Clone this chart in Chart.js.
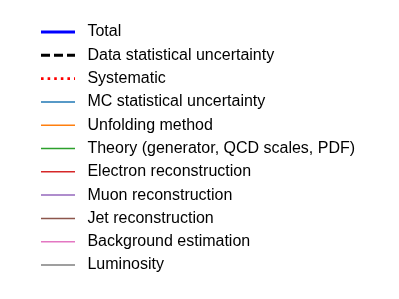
<!DOCTYPE html>
<html>
<head>
<meta charset="utf-8">
<script src="https://cdn.jsdelivr.net/npm/chart.js@4/dist/chart.umd.min.js"></script>
<style>
    body { margin: 0; background: #fff; }
</style>
</head>
<body>
<canvas id="myChart" width="399" height="299"></canvas>
<script>
// legend entries (the figure only shows the legend, no plotted values)
const seriesNames = [
    'Total',
    'Data statistical uncertainty',
    'Systematic',
    'MC statistical uncertainty',
    'Unfolding method',
    'Theory (generator, QCD scales, PDF)',
    'Electron reconstruction',
    'Muon reconstruction',
    'Jet reconstruction',
    'Background estimation',
    'Luminosity'
];
const categories = [];
const seriesValues = seriesNames.map(() => []);

// line styles per entry
const lineColors = ['#0000ff', '#000000', '#ff0000', '#1f77b4', '#ff7f0e', '#2ca02c',
                    '#d62728', '#9467bd', '#8c564b', '#e377c2', '#7f7f7f'];
const lineWidths = [3, 3, 2.6, 1.5, 1.5, 1.5, 1.5, 1.5, 1.5, 1.5, 1.5];
const lineDashes = [[], [9, 4], [2.6, 4], [], [], [], [], [], [], [], []];

const buildDataset = (label, data, i) => ({
    label: label,
    data: data,
    borderColor: lineColors[i],
    backgroundColor: lineColors[i],
    borderWidth: lineWidths[i],
    borderDash: lineDashes[i],
    fill: false
});

let ctx = document.getElementById('myChart').getContext('2d');
let myChart = new Chart(ctx, {
    type: 'line',
    data: {
        labels: categories,
        datasets: seriesNames.map((name, i) => buildDataset(name, seriesValues[i], i))
    },
    options: {
        responsive: false,
        animation: false,
        layout: { padding: { left: 33.7, top: 16.7 } },
        scales: {
            x: { display: false },
            y: { display: false }
        },
        plugins: {
            tooltip: { enabled: false },
            legend: {
                position: 'left',
                align: 'start',
                maxWidth: 360,
                labels: {
                    usePointStyle: true,
                    pointStyleWidth: 34,
                    boxHeight: 16,
                    padding: 7.3,
                    color: '#000',
                    font: { family: '"Liberation Sans", Arial, sans-serif', size: 16 },
                    // draw each entry as a short line sample
                    generateLabels: chart => chart.data.datasets.map((ds, i) => ({
                        text: ' ' + ds.label,
                        fillStyle: ds.borderColor,
                        strokeStyle: ds.borderColor,
                        lineWidth: ds.borderWidth,
                        lineDash: ds.borderDash,
                        lineCap: 'butt',
                        pointStyle: 'line',
                        textAlign: 'left',
                        fontColor: '#000',
                        hidden: false,
                        datasetIndex: i
                    }))
                }
            }
        }
    }
});
</script>
</body>
</html>
